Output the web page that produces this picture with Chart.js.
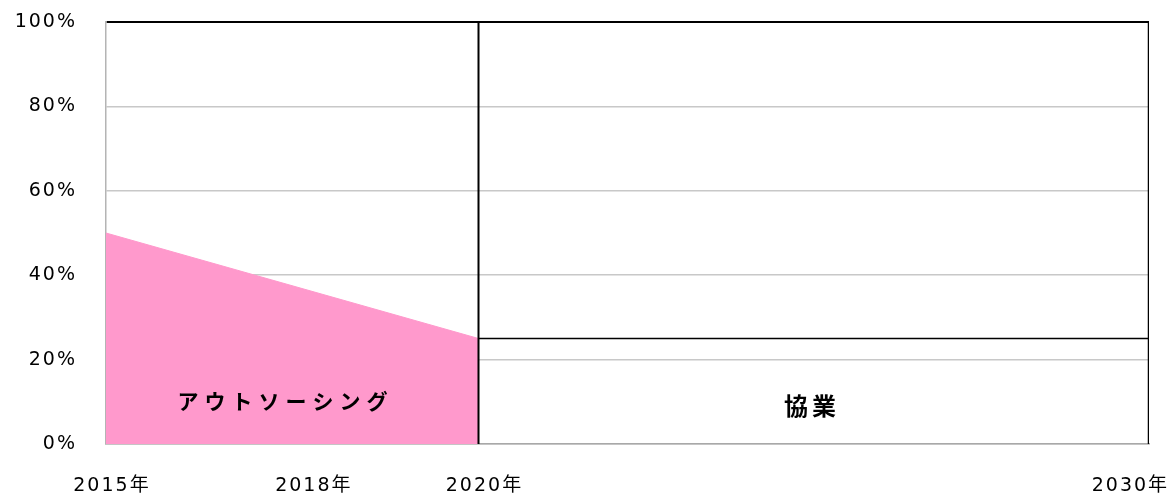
<!DOCTYPE html>
<html lang="ja">
<head>
<meta charset="utf-8">
<title>アウトソーシングと協業</title>
<script src="https://cdn.jsdelivr.net/npm/chart.js@4.4.1/dist/chart.umd.min.js"></script>
<style>
  html, body { margin: 0; padding: 0; background: #fff; }
</style>
</head>
<body>
<canvas id="shareChart" width="1174" height="493"></canvas>
<script>
// Eje horizontal: posición de cada año (2015年 = 0; a partir de 2020年 la escala va algo más apretada)
const yearLabels = ['2015年', '2018年', '2020年', '2030年'];
const yearTickPos = [0.08, 2.79, 5.08, 13.75];
const axisEnd = 14; // posición de 2030年

// Porcentaje de アウトソーシング: 2015年 -> 2020年
const outsourcingX = [0, 5];
const outsourcingShare = [50, 25];

// Línea de 協業: 2020年 -> 2030年
const collabX = [5, 14];
const collabShare = [25, 25];

// Líneas divisorias verticales (2020年 y 2030年)
const dividerX = [5, 14];
const dividerRange = [0, 100];

// Textos dentro de cada zona
const areaNames = ['アウトソーシング', '協業'];

const toPoints = (xs, ys) => xs.map((x, i) => ({ x: x, y: ys[i] }));

// Espaciado de letras para imitar el texto ancho del original
const wideText = {
  id: 'wideText',
  beforeLayout(chart) { chart.ctx.letterSpacing = '2px'; },
  beforeDraw(chart) { chart.ctx.letterSpacing = '2px'; }
};

// Rótulos dentro del área
const areaText = {
  id: 'areaText',
  afterDatasetsDraw(chart, args, opts) {
    const { ctx, scales: { x, y } } = chart;
    ctx.save();
    ctx.fillStyle = '#000';
    ctx.textAlign = 'center';
    ctx.textBaseline = 'middle';
    opts.items.forEach((it, i) => {
      ctx.font = 'bold ' + it.size + 'px "Noto Sans CJK JP"';
      ctx.letterSpacing = it.spacing + 'px';
      ctx.fillText(areaNames[i], x.getPixelForValue(it.x) + it.spacing / 2, y.getPixelForValue(it.y));
    });
    ctx.restore();
  }
};

const tickFont = { family: '"DejaVu Sans", "Noto Sans CJK JP"', size: 19 };

new Chart(document.getElementById('shareChart').getContext('2d'), {
  type: 'line',
  data: {
    datasets: [
      {
        label: areaNames[0],
        data: toPoints(outsourcingX, outsourcingShare),
        fill: 'origin',
        backgroundColor: '#ff99cc',
        borderColor: '#ff99cc',
        borderWidth: 1,
        pointRadius: 0,
        order: 4
      },
      {
        label: areaNames[1],
        data: toPoints(collabX, collabShare),
        borderColor: '#000',
        borderWidth: 1.5,
        pointRadius: 0,
        fill: false
      },
      {
        label: yearLabels[2],
        data: toPoints([dividerX[0], dividerX[0]], dividerRange),
        borderColor: '#000',
        borderWidth: 2,
        pointRadius: 0,
        fill: false
      },
      {
        label: yearLabels[3],
        data: toPoints([dividerX[1], dividerX[1]], dividerRange),
        borderColor: '#000',
        borderWidth: 2.5,
        pointRadius: 0,
        fill: false
      }
    ]
  },
  options: {
    responsive: false,
    animation: false,
    layout: { padding: { top: 22, right: 25, bottom: 0, left: 0 } },
    plugins: {
      legend: { display: false },
      tooltip: { enabled: false },
      areaText: {
        items: [
          { x: 2.37, y: 10.2, size: 21, spacing: 6 },
          { x: 9.45, y: 9.1, size: 24, spacing: 4 }
        ]
      }
    },
    scales: {
      x: {
        type: 'linear',
        min: 0,
        max: axisEnd,
        grid: { display: false, drawTicks: false },
        border: { display: true, color: '#a8a8a8', width: 1.5 },
        ticks: {
          autoSkip: false,
          maxRotation: 0,
          padding: 31,
          color: '#000',
          font: tickFont,
          callback: (v, i) => yearLabels[i]
        },
        afterBuildTicks: s => { s.ticks = yearTickPos.map(v => ({ value: v })); },
        afterFit: s => { s.height = 49; s.paddingLeft = 0; s.paddingRight = 0; }
      },
      y: {
        min: 0,
        max: 100,
        grid: {
          drawTicks: false,
          color: c => c.tick.value === 100 ? '#000' : '#c8c8c8',
          lineWidth: c => c.tick.value === 100 ? 2 : 1.5
        },
        border: { display: true, color: '#b4b4b4', width: 1.5 },
        ticks: {
          stepSize: 20,
          padding: 29,
          color: '#000',
          font: tickFont,
          callback: v => v + '%'
        },
        afterFit: s => { s.width = 106; s.paddingTop = 0; s.paddingBottom = 0; }
      }
    }
  },
  plugins: [wideText, areaText]
});
</script>
</body>
</html>
